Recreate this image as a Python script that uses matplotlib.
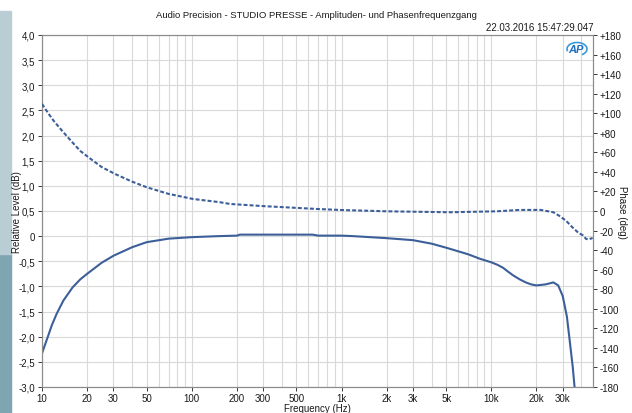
import matplotlib
matplotlib.use("Agg")
import matplotlib.pyplot as plt
from matplotlib.patches import Rectangle, Arc
from matplotlib.ticker import FixedLocator, NullFormatter

# amplitude response (dB)
level_freq = [10, 10.5, 11, 11.6, 12.5, 13.9, 16, 18, 20, 25, 30, 40, 50, 70, 100,
              150, 200, 210, 500, 640, 700, 1000, 1200, 2000, 3000, 4000, 5000,
              7000, 8400, 10000, 11000, 12000, 13000, 14000, 15500, 17000, 18500,
              20000, 23000, 26000, 28000, 30000, 32000, 33300, 35000, 36000, 37000]
level_db = [-2.33, -2.15, -1.98, -1.78, -1.55, -1.28, -1.02, -0.86, -0.75, -0.53,
            -0.39, -0.22, -0.12, -0.05, -0.02, 0.0, 0.01, 0.03, 0.03, 0.03, 0.01,
            0.01, 0.0, -0.04, -0.08, -0.15, -0.23, -0.36, -0.45, -0.52, -0.57,
            -0.63, -0.71, -0.78, -0.86, -0.92, -0.96, -0.98, -0.96, -0.92, -0.98,
            -1.19, -1.6, -2.04, -2.6, -3.0, -3.4]

# phase response (deg)
phase_freq = [10, 11, 12, 13.9, 16, 18, 20.4, 25, 30.7, 40, 50, 70, 102, 154, 180,
              300, 682, 1000, 2000, 5300, 10900, 15500, 21400, 26000, 28500, 31600,
              35000, 38000, 41000, 43000, 45000, 47500]
phase_deg = [109.5, 100, 92, 80.5, 70, 61.5, 55, 45, 37.9, 30, 24.3, 17.5, 12.3,
             9, 7.2, 5, 2.1, 1.0, -0.3, -1.3, -0.3, 1.1, 1.1, -1.3, -5, -10, -17,
             -22, -25, -28.6, -29, -27.5]

xticks = [10, 20, 30, 50, 100, 200, 300, 500, 1000, 2000, 3000, 5000, 10000, 20000, 30000]
xlabels = ["10", "20", "30", "50", "100", "200", "300", "500", "1k", "2k", "3k", "5k",
           "10k", "20k", "30k"]
lticks = [4.0, 3.5, 3.0, 2.5, 2.0, 1.5, 1.0, 0.5, 0, -0.5, -1.0, -1.5, -2.0, -2.5, -3.0]
rticks = list(range(180, -181, -20))

line_col = "#3d5f99"
grid_col = "#d9d9d9"
txt_col = "#1a1a1a"
fs = 7

plt.rcParams["font.family"] = ["Liberation Sans", "DejaVu Sans"]
fig = plt.figure(figsize=(6.32, 4.14), dpi=100)
W, H = 632, 414

# side strip
fig.patches.append(Rectangle((0, 0), 11 / W, (414 - 255) / H, transform=fig.transFigure,
                             color="#80a5b2", zorder=-1))
fig.patches.append(Rectangle((0, (414 - 255) / H), 11 / W, (255 - 12) / H,
                             transform=fig.transFigure, color="#b8cdd4", zorder=-1))

ax = fig.add_axes([42 / W, (414 - 388) / H, (593 - 42) / W, (388 - 36) / H])
ax.set_xscale("log")
ax.set_xlim(10, 47800)
ax.set_ylim(-3.0, 4.0)

minor = [m * 10 ** e for e in range(1, 5) for m in range(2, 10) if m * 10 ** e < 47800]
ax.xaxis.set_major_locator(FixedLocator(xticks))
ax.set_xticklabels(xlabels)
ax.xaxis.set_minor_locator(FixedLocator(minor))
ax.xaxis.set_minor_formatter(NullFormatter())
ax.set_yticks(lticks)
ax.set_yticklabels([("%.1f" % v).replace(".", ",") if v != 0 else "0" for v in lticks])

for f in minor + [10, 100, 1000, 10000]:
    ax.axvline(f, color=grid_col, lw=0.8, zorder=0)
for v in lticks:
    ax.axhline(v, color=grid_col, lw=0.8, zorder=0)

ax.tick_params(axis="both", which="major", labelsize=fs, colors=txt_col, length=3,
               width=0.6, pad=1.5)
ax.tick_params(axis="x", which="minor", length=0)
ax.tick_params(axis="y", pad=2)
for s in ax.spines.values():
    s.set_color("#8c8c8c")
    s.set_linewidth(0.8)

ax.plot(level_freq, level_db, color=line_col, lw=1.5, solid_capstyle="round", zorder=3)
ax.set_ylabel("Relative Level (dB)", fontsize=fs, color=txt_col, va="center")
ax.yaxis.set_label_coords((17 - 42) / 551, 0.5)
ax.set_xlabel("Frequency (Hz)", fontsize=fs, color=txt_col, labelpad=0)

ax2 = ax.twinx()
ax2.set_ylim(-180, 180)
ax2.set_yticks(rticks)
ax2.set_yticklabels(["+%d" % v if v > 0 else "%d" % v for v in rticks])
ax2.tick_params(axis="y", labelsize=fs, colors=txt_col, length=3, width=0.6, pad=2)
for s in ax2.spines.values():
    s.set_color("#8c8c8c")
    s.set_linewidth(0.8)
ax2.plot(phase_freq, phase_deg, color=line_col, lw=1.5, dashes=(1.9, 1.0), zorder=3)
ax2.set_ylabel("Phase (deg)", fontsize=fs, color=txt_col, rotation=-90, va="center")
ax2.yaxis.set_label_coords((622 - 42) / 551, 0.5)

fig.text(316 / W, 1 - 15 / H, "Audio Precision - STUDIO PRESSE - Amplituden- und Phasenfrequenzgang",
         ha="center", va="center", fontsize=6.8, color=txt_col)
fig.text(593 / W, 1 - 28 / H, "22.03.2016 15:47:29.047", ha="right", va="center",
         fontsize=fs, color=txt_col)

# AP logo
fig.text(576 / W, 1 - 50 / H, "AP", ha="center", va="center", fontsize=8,
         fontweight="bold", style="italic", color="#1f6fc0")
fig.patches.append(Arc((577 / W, 1 - 50 / H), 20 / W, 13 / H, theta1=-60, theta2=200,
                       transform=fig.transFigure, color="#3a9ad9", lw=1.2))

fig.savefig("out.png", dpi=100, facecolor="white")
